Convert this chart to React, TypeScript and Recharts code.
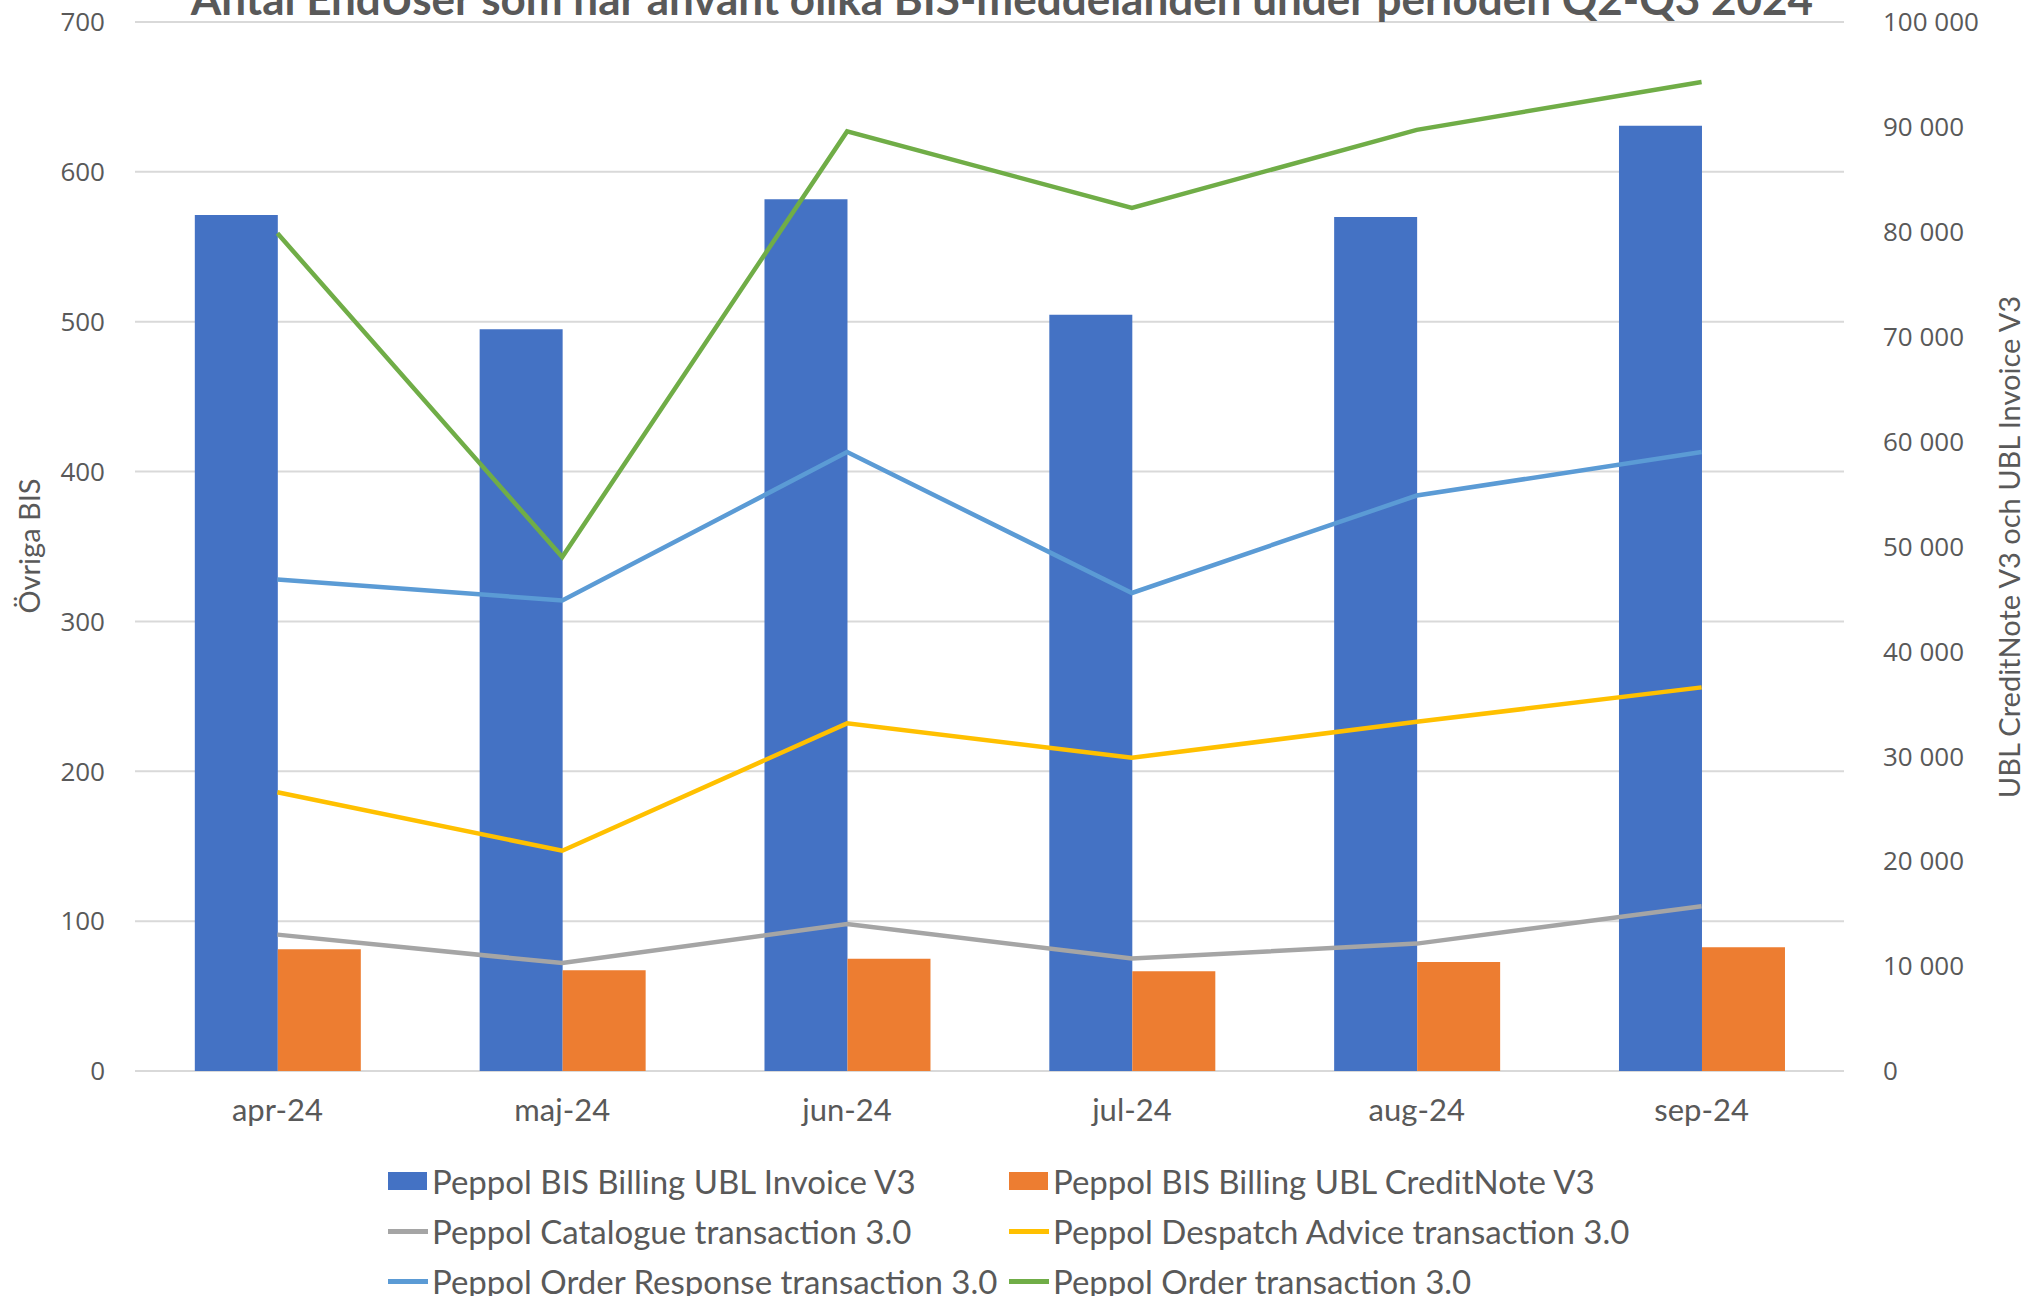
import React from 'react';
import { ComposedChart, Bar, Line, XAxis, YAxis, CartesianGrid } from 'recharts';

const categories = ['apr-24', 'maj-24', 'jun-24', 'jul-24', 'aug-24', 'sep-24'];
const invoiceV3 = [81600, 70700, 83100, 72100, 81400, 90100];
const creditNoteV3 = [11600, 9600, 10700, 9500, 10400, 11800];
const catalogue = [91, 72, 98, 75, 85, 110];
const despatch = [186, 147, 232, 209, 233, 256];
const orderResponse = [328, 314, 413, 319, 384, 413];
const order = [559, 343, 627, 576, 628, 660];

const leftTicks = [0, 100, 200, 300, 400, 500, 600, 700];
const rightTicks = [0, 10000, 20000, 30000, 40000, 50000, 60000, 70000, 80000, 90000, 100000];
const boundaryTicks = [0, 1, 2, 3, 4, 5, 6];

const title = 'Antal EndUser som har använt olika BIS-meddelanden under perioden Q2-Q3 2024';
const leftLabel = 'Övriga BIS';
const rightLabel = 'UBL CreditNote V3 och UBL Invoice V3';

const series = [
  { key: 'invoice', name: 'Peppol BIS Billing UBL Invoice V3', color: '#4472C4', type: 'bar' },
  { key: 'credit', name: 'Peppol BIS Billing UBL CreditNote V3', color: '#ED7D31', type: 'bar' },
  { key: 'catalogue', name: 'Peppol Catalogue transaction 3.0', color: '#A5A5A5', type: 'line' },
  { key: 'despatch', name: 'Peppol Despatch Advice transaction 3.0', color: '#FFC000', type: 'line' },
  { key: 'orderResponse', name: 'Peppol Order Response transaction 3.0', color: '#5B9BD5', type: 'line' },
  { key: 'order', name: 'Peppol Order transaction 3.0', color: '#70AD47', type: 'line' },
];

const data = categories.map((c, i) => ({
  month: c,
  invoice: invoiceV3[i],
  credit: creditNoteV3[i],
  catalogue: catalogue[i],
  despatch: despatch[i],
  orderResponse: orderResponse[i],
  order: order[i],
}));

const fmtThousands = (v: number) => String(v).replace(/\B(?=(\d{3})+(?!\d))/g, ' ');

const W = 2029;
const H = 1296;
const textColor = '#595959';
const gridColor = '#D9D9D9';
const calibriLike = 'Lato, "Open Sans", sans-serif';
const tickFont = '"Open Sans", Lato, sans-serif';

export default function App() {
  return (
    <div style={{ position: 'absolute', left: 0, top: 0, width: W, height: H, background: '#fff', overflow: 'hidden' }}>
      <ComposedChart
        width={W}
        height={H}
        data={data}
        margin={{ top: 22, right: 0, bottom: 165, left: 0 }}
        barCategoryGap="21%"
        barGap={0}
      >
        <CartesianGrid vertical={false} stroke={gridColor} strokeWidth={2} yAxisId="left" />
        <XAxis
          xAxisId="bounds"
          type="number"
          domain={[0, 6]}
          ticks={boundaryTicks}
          allowDataOverflow
          height={0}
          tick={false}
          tickSize={10}
          axisLine={{ stroke: gridColor, strokeWidth: 2 }}
          tickLine={{ stroke: gridColor, strokeWidth: 2 }}
        />
        <XAxis
          dataKey="month"
          height={60}
          axisLine={false}
          tickLine={false}
          tickSize={0}
          tickMargin={28}
          tick={{ fill: textColor, fontSize: 31, fontFamily: calibriLike }}
        />
        <YAxis
          yAxisId="left"
          width={135}
          domain={[0, 700]}
          ticks={leftTicks}
          axisLine={false}
          tickLine={false}
          tickSize={0}
          tickMargin={30}
          tick={{ fill: textColor, fontSize: 26, fontFamily: tickFont }}
        />
        <YAxis
          yAxisId="right"
          orientation="right"
          width={185}
          domain={[0, 100000]}
          ticks={rightTicks}
          tickFormatter={fmtThousands}
          axisLine={false}
          tickLine={false}
          tickSize={0}
          tickMargin={39}
          tick={{ fill: textColor, fontSize: 26, fontFamily: tickFont }}
        />
        <Bar yAxisId="right" dataKey="invoice" name={series[0].name} fill={series[0].color} isAnimationActive={false} />
        <Bar yAxisId="right" dataKey="credit" name={series[1].name} fill={series[1].color} isAnimationActive={false} />
        {series.filter((s) => s.type === 'line').map((s) => (
          <Line
            key={s.key}
            yAxisId="left"
            type="linear"
            dataKey={s.key}
            name={s.name}
            stroke={s.color}
            strokeWidth={4.5}
            dot={false}
            activeDot={false}
            isAnimationActive={false}
          />
        ))}
      </ComposedChart>

      <svg width={W} height={H} style={{ position: 'absolute', left: 0, top: 0, pointerEvents: 'none' }}>
        <text x={1002} y={15} textAnchor="middle" fill={textColor} fontSize={44} fontWeight={700} fontFamily={calibriLike}>
          {title}
        </text>
        <text x={40} y={546} textAnchor="middle" fill={textColor} fontSize={29} fontFamily={calibriLike} transform="rotate(-90 40 546)">
          {leftLabel}
        </text>
        <text x={2020} y={547} textAnchor="middle" fill={textColor} fontSize={29} fontFamily={calibriLike} transform="rotate(-90 2020 547)">
          {rightLabel}
        </text>
      </svg>

      <div style={{ position: 'absolute', left: 0, top: 0, width: W, height: H, pointerEvents: 'none' }}>
        {series.map((s, i) => {
          const col = i % 2;
          const row = Math.floor(i / 2);
          const iconLeft = col === 0 ? 388 : 1009;
          const cy = 1181 + row * 50;
          return (
            <div
              key={s.key}
              style={{
                position: 'absolute',
                left: iconLeft,
                top: cy - 20,
                height: 40,
                display: 'flex',
                alignItems: 'center',
                whiteSpace: 'nowrap',
                fontFamily: calibriLike,
                fontSize: 33,
                color: textColor,
              }}
            >
              {s.type === 'bar' ? (
                <span style={{ display: 'inline-block', width: 39, height: 18, background: s.color, marginRight: 5 }} />
              ) : (
                <span style={{ display: 'inline-block', width: 40, height: 5, background: s.color, marginRight: 4 }} />
              )}
              <span>{s.name}</span>
            </div>
          );
        })}
      </div>
    </div>
  );
}
